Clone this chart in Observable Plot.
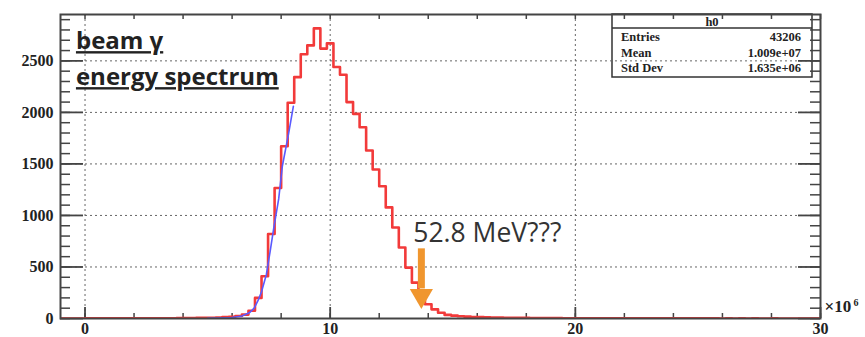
<!DOCTYPE html>
<html><head><meta charset="utf-8">
<script src="https://cdn.jsdelivr.net/npm/d3@7"></script>
<script src="https://cdn.jsdelivr.net/npm/@observablehq/plot@0.6"></script>
<style>
html,body{margin:0;padding:0;background:#fff;}
#chart{width:865px;height:337px;}
</style></head><body><div id="chart"></div>
<script>
// histogram: bin i covers [i*binWidth, (i+1)*binWidth), x in units of 10^6
const binWidth = 4 / 15;
const counts = [
  1,1,1,1,1,2,1,2,2,2,2,3,3,3,4,
  4,5,6,7,8,10,13,17,24,38,
  75,200,410,820,1266,1671,2093,2342,2565,2650,
  2815,2619,2670,2440,2365,2100,1986,1856,1630,1446,
  1284,1078,883,689,494,348,235,138,89,56,
  35,28,22,18,15,13,11,10,9,8,
  7,6,6,5,5,4,4,4,3,3,
  3,3,2,2,2,2,2,2,1,1,
  1,1,1,1,1,1,1,1,1,1,
  1,1,0,1,0,1,0,1,0,0,
  1,0,0,0,0,0,0,0
];
// fitted curve (blue)
const fitX = [5.0, 5.5, 6.0, 6.4, 6.7, 6.9, 7.05, 7.2, 7.4, 7.55, 7.7, 7.9, 8.05, 8.3, 8.5];
const fitY = [2, 5, 10, 25, 55, 100, 170, 260, 430, 650, 880, 1160, 1480, 1790, 2060];

const xTicks = [0, 10, 20, 30];
const yTicks = [0, 500, 1000, 1500, 2000, 2500];
const xMinorStep = 2;
const yMinorStep = 100;
const histName = "h0";
const statsLabels = ["Entries", "Mean", "Std Dev"];
const statsValues = ["43206", "1.009e+07", "1.635e+06"];
const titleLines = ["beam γ", "energy spectrum"];
const note = "52.8 MeV???";
const arrowX = 13.72;      // arrow position (10^6)
const arrowTop = 676, arrowBase = 287, arrowTipCenter = 222;

const hist = [{x: -1, y: 0}]
  .concat(counts.map((c, i) => ({x: i * binWidth, y: c})))
  .concat([{x: counts.length * binWidth, y: counts[counts.length - 1]}]);
const fit = fitX.map((x, i) => ({x, y: fitY[i]}));
const xMinor = d3.range(0, 30.01, xMinorStep);
const yMinor = d3.range(0, 2901, yMinorStep);

const W = 865, H = 337, mL = 60, mR = 45, mT = 14, mB = 19;
const fw = W - mL - mR, fh = H - mT - mB;
const tickCol = "#444";
const serif = "'Liberation Serif', 'Times New Roman', serif";
const orange = "#f0962e";

const plot = Plot.plot({
  width: W, height: H,
  marginLeft: mL, marginRight: mR, marginTop: mT, marginBottom: mB,
  x: {domain: [-1, 30], ticks: xTicks, tickSize: 0, tickPadding: 4, tickFormat: d => String(d), label: null},
  y: {domain: [0, 2950], ticks: yTicks, tickSize: 0, tickPadding: 7, tickFormat: d => String(d), label: null},
  style: {fontFamily: serif, fontWeight: "bold", fontSize: "16px", color: "#222", background: "white", overflow: "visible"},
  marks: [
    Plot.ruleY(yTicks.slice(1), {stroke: "#666", strokeDasharray: "2,3", strokeWidth: 1}),
    Plot.ruleX(xTicks.slice(0, 3), {stroke: "#666", strokeDasharray: "2,3", strokeWidth: 1}),
    Plot.ruleY(yMinor, {insetRight: fw - 10, stroke: tickCol, strokeWidth: 1.5}),
    Plot.ruleY(yTicks, {insetRight: fw - 23, stroke: tickCol, strokeWidth: 1.8}),
    Plot.ruleY(yMinor, {insetLeft: fw - 10, stroke: tickCol, strokeWidth: 1.5}),
    Plot.ruleY(yTicks, {insetLeft: fw - 22, stroke: tickCol, strokeWidth: 1.8}),
    Plot.ruleX(xMinor, {insetTop: fh - 5, stroke: tickCol, strokeWidth: 1.5}),
    Plot.ruleX(xTicks, {insetTop: fh - 11, stroke: tickCol, strokeWidth: 1.8}),
    Plot.ruleX(xMinor, {insetBottom: fh - 5, stroke: tickCol, strokeWidth: 1.5}),
    Plot.line(hist, {x: "x", y: "y", curve: "step-after", stroke: "#f23a3a", strokeWidth: 2.6, clip: true}),
    Plot.line(fit, {x: "x", y: "y", stroke: "#5a5aff", strokeWidth: 1.6}),
    Plot.frame({stroke: "#444", strokeWidth: 2}),
    Plot.ruleX([arrowX], {y1: arrowBase, y2: arrowTop, stroke: orange, strokeWidth: 7}),
    Plot.dot([arrowX], {x: d => d, y: arrowTipCenter, symbol: "triangle", rotate: 180, r: 8.6, fill: orange, stroke: null}),
    Plot.text([note], {x: 13.39, y: 825, text: d => d, textAnchor: "start", lineAnchor: "middle",
      fontFamily: "'Open Sans', sans-serif", fontWeight: "normal", fontSize: 26.5, fill: "#333"}),
    Plot.text([titleLines.join("\n")], {x: -0.37, y: 2862, text: d => d, textAnchor: "start", lineAnchor: "top",
      lineHeight: 1.5, fontFamily: "'Open Sans', sans-serif", fontWeight: "bold", fontSize: 24, fill: "#222"}),
    Plot.text(["×10"], {frameAnchor: "bottom-right", dx: 4, dy: -7, textAnchor: "start", fontSize: 17}),
    Plot.text(["6"], {frameAnchor: "bottom-right", dx: 33, dy: -13, textAnchor: "start", fontSize: 10})
  ]
});

const svg = d3.select(plot);
// underline the title
svg.selectAll("text").filter(function() { return this.textContent.indexOf("energy") >= 0; })
  .style("text-decoration", "underline");

// stats box
const box = svg.insert("g", "g").attr("font-family", serif).attr("font-weight", "bold").attr("font-size", 12.5).attr("fill", "#222");
box.append("rect").attr("x", 612).attr("y", 14).attr("width", 200).attr("height", 63)
  .attr("fill", "white").attr("stroke", "#333").attr("stroke-width", 1.5);
box.append("line").attr("x1", 612).attr("x2", 812).attr("y1", 28).attr("y2", 28).attr("stroke", "#333").attr("stroke-width", 1.5);
box.append("text").attr("x", 712).attr("y", 26).attr("text-anchor", "middle").text(histName);
statsLabels.forEach((l, i) => {
  box.append("text").attr("x", 621).attr("y", 41 + i * 15.5).attr("text-anchor", "start").text(l);
  box.append("text").attr("x", 801).attr("y", 41 + i * 15.5).attr("text-anchor", "end").text(statsValues[i]);
});

document.getElementById("chart").appendChild(plot);
</script></body></html>
